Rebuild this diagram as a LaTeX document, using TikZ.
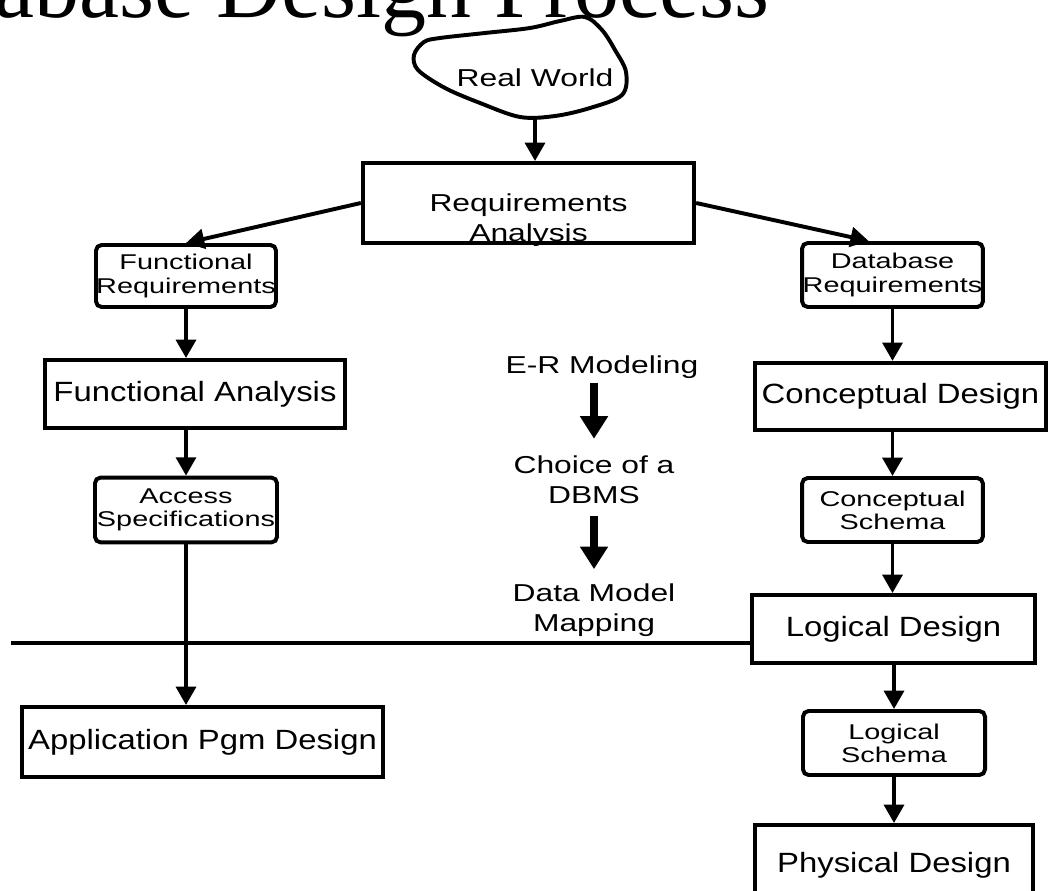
\documentclass[tikz,border=0pt]{standalone}
\usepackage{fontspec}
\usetikzlibrary{arrows.meta}
\newfontfamily\boxfont[FakeStretch=1.18]{Liberation Sans}
\newfontfamily\midfont[FakeStretch=1.3]{Liberation Sans}
\newfontfamily\tagfont[FakeStretch=1.35]{Liberation Sans}
\newfontfamily\titlefont{Liberation Serif}
\tikzset{
  box/.style={draw, line width=2.8pt, inner sep=0pt, font=\boxfont\fontsize{19.8}{23}\selectfont},
  rbox/.style={draw, line width=2.8pt, rounded corners=4pt, inner sep=0pt, align=center,
    font=\tagfont\fontsize{15.2}{16.5}\selectfont},
  midtext/.style={inner sep=2pt, align=center, font=\midfont\fontsize{17.4}{21.5}\selectfont},
  flow/.style={line width=2.8pt, -{Triangle[length=13pt,width=14pt]}},
  bigflow/.style={line width=5.5pt, -{Triangle[length=16pt,width=19pt]}},
}
\begin{document}
\begin{tikzpicture}[x=0.025cm, y=-0.025cm]
  \useasboundingbox (0,0) rectangle (1049,891);
  \node[anchor=base west, inner sep=0pt, font=\titlefont\fontsize{64}{64}\selectfont] (title) at (-136,18) {Database Design Process};

  % the real world blob
  \node[midtext, minimum height=2cm] (real) at (535,78) {Real World};
  \draw[line width=2.8pt, line join=round]
    plot[smooth cycle, tension=0.55] coordinates {
      (440,38) (485,33) (530,28) (560,21) (585,17) (602,30) (615,50) (626,72)
      (622,95) (590,108) (555,116) (520,117) (480,103) (445,88) (418,70) (414,55) (424,42)};

  \node[box, minimum width=8.28cm, minimum height=2cm,
    label={[midtext, yshift=-0.42cm]center:Requirements\\Analysis}] (req) at (528.5,203) {};

  % left column
  \node[rbox, minimum width=4.5cm, minimum height=1.55cm] (freq) at (186,276) {Functional\\Requirements};
  \node[box, minimum width=7.5cm, minimum height=1.7cm] (fana) at (195,394) {Functional Analysis};
  \node[rbox, minimum width=4.55cm, minimum height=1.62cm] (acc) at (186,510) {Access\\Specifications};
  \node[box, minimum width=9.03cm, minimum height=1.75cm] (app) at (202.5,742) {Application Pgm Design};

  % right column
  \node[rbox, minimum width=4.52cm, minimum height=1.6cm] (dbreq) at (892.5,275) {Database\\Requirements};
  \node[box, minimum width=7.28cm, minimum height=1.68cm] (cond) at (900.5,396.5) {Conceptual Design};
  \node[rbox, minimum width=4.52cm, minimum height=1.6cm] (cons) at (892.5,510) {Conceptual\\Schema};
  \node[box, minimum width=7.08cm, minimum height=1.7cm] (logd) at (893.5,629) {Logical Design};
  \node[rbox, minimum width=4.55cm, minimum height=1.6cm] (logs) at (894,743) {Logical\\Schema};
  \node[box, minimum width=6.95cm, minimum height=2cm] (phys) at (894,865) {Physical Design};

  % middle steps
  \node[midtext] (er) at (602,367) {E-R Modeling};
  \node[midtext] (choice) at (594,480) {Choice of a\\DBMS};
  \node[midtext] (dmm) at (594,610) {Data Model\\Mapping};

  \draw[flow] (real.south) -- (real.south |- req.north);
  \draw[flow] (req.west) -- (freq.north);
  \draw[flow] (req.east) -- (dbreq.125);

  \draw[flow] (freq.south) -- (freq.south |- fana.north);
  \draw[flow] (acc.north |- fana.south) -- (acc.north);
  \draw[flow] (acc.south) -- (acc.south |- app.north);

  \draw[flow] (dbreq.south) -- (dbreq.south |- cond.north);
  \draw[flow] (cons.north |- cond.south) -- (cons.north);
  \draw[flow] (cons.south) -- (cons.south |- logd.north);
  \draw[flow] (logs.north |- logd.south) -- (logs.north);
  \draw[flow] (logs.south) -- (logs.south |- phys.north);

  \draw[bigflow, shorten <=1pt, shorten >=10pt] (er.south -| choice.north) -- (choice.north);
  \draw[bigflow, shorten <=6pt, shorten >=8pt] (choice.south) -- (dmm.north);

  % the cut line
  \coordinate (cut) at (11,643);
  \draw[line width=2.8pt] (cut) -- (cut -| logd.west);
\end{tikzpicture}
\end{document}
